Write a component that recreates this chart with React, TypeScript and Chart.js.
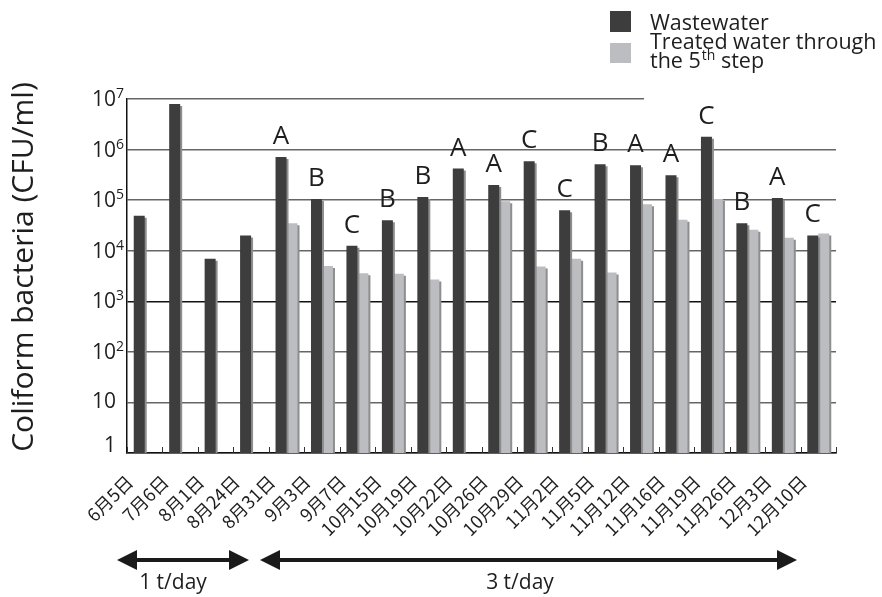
import { useEffect, useRef } from 'react';
import { Chart, registerables } from 'chart.js';

Chart.register(...registerables);

const categories = ['6月5日', '7月6日', '8月1日', '8月24日', '8月31日', '9月3日', '9月7日', '10月15日', '10月19日', '10月22日', '10月26日', '10月29日', '11月2日', '11月5日', '11月12日', '11月16日', '11月19日', '11月26日', '12月3日', '12月10日'];
const wastewater = [4.9e4, 8.0e6, 6.9e3, 2.0e4, 7.1e5, 1.05e5, 1.25e4, 4.0e4, 1.15e5, 4.2e5, 2.0e5, 5.9e5, 6.3e4, 5.1e5, 4.9e5, 3.1e5, 1.8e6, 3.5e4, 1.1e5, 2.0e4];
const treated = [null, null, null, null, 3.5e4, 5.0e3, 3.6e3, 3.5e3, 2.7e3, null, 9.5e4, 4.9e3, 6.9e3, 3.7e3, 8.3e4, 4.1e4, 1.05e5, 2.6e4, 1.8e4, 2.2e4];
const groupLetters = ['', '', '', '', 'A', 'B', 'C', 'B', 'B', 'A', 'A', 'C', 'C', 'B', 'A', 'A', 'C', 'B', 'A', 'C'];
const yTickExponents = [0, 1, 2, 3, 4, 5, 6, 7];
const seriesNames = ['Wastewater', 'Treated water through the 5th step'];
const periodLabels = ['1 t/day', '3 t/day'];
const yTitle = 'Coliform bacteria (CFU/ml)';

const DARK = '#3d3d3d';
const LIGHT = '#bcbdc1';
const TEXT = '#1e1e1e';
const SANS = '"Open Sans", "Noto Sans", sans-serif';

function drawArrow(ctx: CanvasRenderingContext2D, x1: number, x2: number, y: number) {
  const head = 20;
  const half = 10;
  ctx.save();
  ctx.fillStyle = '#1a1a1a';
  ctx.strokeStyle = '#1a1a1a';
  ctx.lineWidth = 4;
  ctx.beginPath();
  ctx.moveTo(x1 + head - 2, y);
  ctx.lineTo(x2 - head + 2, y);
  ctx.stroke();
  ctx.beginPath();
  ctx.moveTo(x1, y);
  ctx.lineTo(x1 + head, y - half);
  ctx.lineTo(x1 + head, y + half);
  ctx.closePath();
  ctx.fill();
  ctx.beginPath();
  ctx.moveTo(x2, y);
  ctx.lineTo(x2 - head, y - half);
  ctx.lineTo(x2 - head, y + half);
  ctx.closePath();
  ctx.fill();
  ctx.restore();
}

const decorPlugin = {
  id: 'decor',
  beforeDatasetsDraw(chart: any) {
    const { ctx, chartArea, scales } = chart;
    const yTop = scales.y.getPixelForValue(1e7);
    ctx.save();
    ctx.fillStyle = '#ffffff';
    ctx.fillRect(644, yTop - 3, chartArea.right - 644 + 6, 6);
    ctx.restore();
    ctx.save();
    ctx.shadowColor = '#8e8e8e';
    ctx.shadowOffsetX = 2;
    ctx.shadowOffsetY = 2;
    ctx.shadowBlur = 0;
  },
  afterDatasetsDraw(chart: any) {
    const { ctx, chartArea, scales } = chart;
    ctx.restore();
    const xs = scales.x;
    const ys = scales.y;

    // inner tick marks at category boundaries
    ctx.save();
    ctx.strokeStyle = '#333';
    ctx.lineWidth = 1;
    for (let i = 0; i <= categories.length; i++) {
      const x = Math.round(xs.getPixelForValue(i - 0.5)) + 0.5;
      ctx.beginPath();
      ctx.moveTo(x, chartArea.bottom);
      ctx.lineTo(x, chartArea.bottom - 6);
      ctx.stroke();
    }
    ctx.restore();

    // group letters
    ctx.save();
    ctx.fillStyle = TEXT;
    ctx.font = `26px ${SANS}`;
    ctx.textAlign = 'center';
    ctx.textBaseline = 'alphabetic';
    const meta = chart.getDatasetMeta(0);
    groupLetters.forEach((l, i) => {
      if (!l) return;
      const bar = meta.data[i];
      ctx.fillText(l, bar.x, bar.y - 13);
    });
    ctx.restore();

    // y tick labels
    ctx.save();
    ctx.fillStyle = TEXT;
    ctx.textBaseline = 'middle';
    yTickExponents.forEach((e) => {
      const y = ys.getPixelForValue(Math.pow(10, e));
      ctx.textAlign = 'right';
      ctx.font = `21px ${SANS}`;
      if (e === 0) {
        ctx.fillText('1', 116, y - 7);
      } else if (e === 1) {
        ctx.fillText('10', 116, y);
      } else {
        ctx.fillText('10', 116, y + 1);
        ctx.textAlign = 'left';
        ctx.font = `14px ${SANS}`;
        ctx.fillText(String(e), 116, y - 5);
      }
    });
    ctx.restore();

    // y title
    ctx.save();
    ctx.fillStyle = TEXT;
    ctx.font = `30px ${SANS}`;
    ctx.textAlign = 'center';
    ctx.textBaseline = 'middle';
    ctx.translate(24, 267);
    ctx.rotate(-Math.PI / 2);
    ctx.fillText(yTitle, 0, 0);
    ctx.restore();

    // legend
    ctx.save();
    ctx.fillStyle = DARK;
    ctx.fillRect(610, 11, 21, 21);
    ctx.fillStyle = LIGHT;
    ctx.fillRect(610, 43, 21, 20);
    ctx.fillStyle = TEXT;
    ctx.font = `21.5px ${SANS}`;
    ctx.textAlign = 'left';
    ctx.textBaseline = 'alphabetic';
    ctx.fillText(seriesNames[0], 650, 30);
    const parts = seriesNames[1].split(' ');
    ctx.fillText(parts.slice(0, 3).join(' '), 650, 49);
    const line2a = 'the 5';
    ctx.fillText(line2a, 650, 68);
    let x = 650 + ctx.measureText(line2a).width;
    ctx.font = `14px ${SANS}`;
    ctx.fillText('th', x + 1, 60);
    x += ctx.measureText('th').width + 1;
    ctx.font = `21.5px ${SANS}`;
    ctx.fillText(' step', x, 68);
    ctx.restore();

    // period arrows
    drawArrow(ctx, 117, 249, 560);
    drawArrow(ctx, 260, 797, 560);
    ctx.save();
    ctx.fillStyle = TEXT;
    ctx.font = `21px ${SANS}`;
    ctx.textAlign = 'center';
    ctx.textBaseline = 'alphabetic';
    ctx.fillText(periodLabels[0], 173, 589);
    ctx.fillText(periodLabels[1], 520, 589);
    ctx.restore();
  },
};

export default function App() {
  const ref = useRef<HTMLCanvasElement>(null);
  useEffect(() => {
    document.body.style.margin = '0';
    const canvas = ref.current!;
    const chart = new Chart(canvas, {
      type: 'bar',
      data: {
        labels: categories,
        datasets: [
          { label: seriesNames[0], data: wastewater, backgroundColor: DARK, categoryPercentage: 0.62, barPercentage: 1.0 },
          { label: seriesNames[1], data: treated as any, backgroundColor: LIGHT, categoryPercentage: 0.62, barPercentage: 1.0 },
        ],
      },
      options: {
        responsive: false,
        animation: false,
        layout: { padding: { top: 99, right: 46, left: 0, bottom: 0 } },
        plugins: { legend: { display: false }, tooltip: { enabled: false } },
        scales: {
          x: {
            type: 'category',
            offset: true,
            grid: { display: false },
            border: { display: true, color: '#111', width: 1.5 },
            ticks: {
              autoSkip: false,
              minRotation: 45,
              maxRotation: 45,
              color: TEXT,
              font: { family: '"Noto Sans CJK JP", "Noto Sans", sans-serif', size: 18 },
              padding: 10,
              labelOffset: -15,
            },
            afterFit: (s: any) => { s.height = 144; },
          },
          y: {
            type: 'logarithmic',
            min: 1,
            max: 1e7,
            afterBuildTicks: (s: any) => { s.ticks = yTickExponents.map((e) => ({ value: Math.pow(10, e) })); },
            ticks: { display: false },
            grid: {
              drawTicks: false,
              color: (c: any) => (c.tick && c.tick.value === 1e3 ? '#111' : '#666'),
              lineWidth: 1.5,
            },
            border: { display: true, color: '#111', width: 1.5 },
            afterFit: (s: any) => { s.width = 127; },
          },
        },
      },
      plugins: [decorPlugin],
    });
    return () => chart.destroy();
  }, []);
  return (
    <div style={{ position: 'fixed', left: 0, top: 0, width: 882, height: 597, background: '#fff' }}>
      <canvas ref={ref} width={882} height={597} style={{ display: 'block' }} />
    </div>
  );
}
